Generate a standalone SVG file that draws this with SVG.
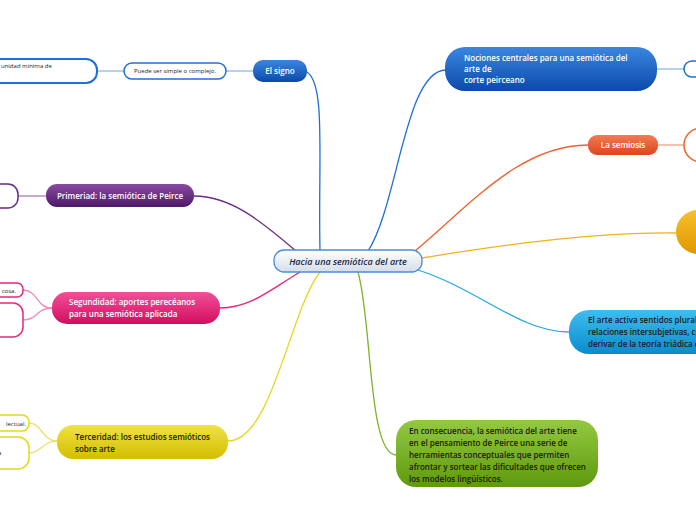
<svg xmlns="http://www.w3.org/2000/svg" width="696" height="520" viewBox="0 0 696 520">
<defs>
<linearGradient id="gBlue" x1="0" y1="0" x2="0" y2="1"><stop offset="0" stop-color="#3b86e0"/><stop offset="1" stop-color="#0b4aaa"/></linearGradient>
<linearGradient id="gOrange" x1="0" y1="0" x2="0" y2="1"><stop offset="0" stop-color="#f57a52"/><stop offset="1" stop-color="#d9471c"/></linearGradient>
<linearGradient id="gGold" x1="0" y1="0" x2="0" y2="1"><stop offset="0" stop-color="#f7bf2e"/><stop offset="1" stop-color="#df9800"/></linearGradient>
<linearGradient id="gCyan" x1="0" y1="0" x2="0" y2="1"><stop offset="0" stop-color="#3fbdf0"/><stop offset="1" stop-color="#0a8ccc"/></linearGradient>
<linearGradient id="gGreen" x1="0" y1="0" x2="0" y2="1"><stop offset="0" stop-color="#93c940"/><stop offset="1" stop-color="#5e990e"/></linearGradient>
<linearGradient id="gPurple" x1="0" y1="0" x2="0" y2="1"><stop offset="0" stop-color="#8a4aa2"/><stop offset="1" stop-color="#4e1a68"/></linearGradient>
<linearGradient id="gPink" x1="0" y1="0" x2="0" y2="1"><stop offset="0" stop-color="#f2509a"/><stop offset="1" stop-color="#d20d5e"/></linearGradient>
<linearGradient id="gYellow" x1="0" y1="0" x2="0" y2="1"><stop offset="0" stop-color="#f1e245"/><stop offset="1" stop-color="#d2be00"/></linearGradient>
<linearGradient id="gCenter" x1="0" y1="0" x2="0" y2="1"><stop offset="0" stop-color="#ffffff"/><stop offset="1" stop-color="#d5dde8"/></linearGradient>
</defs>
<style>
text{font-family:"Open Sans","Noto Sans","Liberation Sans",sans-serif}
.w{fill:#fff;font-size:8px;font-weight:600}
.d{fill:#1a1a1a;font-size:8px;font-weight:600}
.s{fill:#222;font-size:6px}
.c{fill:none;stroke-width:1.3}
</style>
<g id="connectors">
<path class="c" stroke="#1e6fd6" d="M320,251 C318,160 326,84 307,72"/>
<path class="c" stroke="#1e6fd6" d="M368,251 C398,205 405,70 446,70"/>
<path class="c" stroke="#f0602e" d="M415,251 C470,205 520,145 588,145"/>
<path class="c" stroke="#f2b21a" d="M422,258 C500,245 600,232 676,233"/>
<path class="c" stroke="#23a8e6" d="M418,270 C480,290 520,332 569,332"/>
<path class="c" stroke="#7db52a" d="M358,272 C372,320 368,455 396,455"/>
<path class="c" stroke="#e6d61c" d="M320,272 C290,310 272,441 228,441"/>
<path class="c" stroke="#e8277a" d="M300,272 C270,290 250,308 220,308"/>
<path class="c" stroke="#6a2a85" d="M296,251 C260,220 230,196 194,196"/>
<path class="c" stroke="#8ab8ec" d="M253,71 L226,71"/>
<path class="c" stroke="#8ab8ec" d="M124,71 L97,71"/>
<path class="c" stroke="#8ab8ec" d="M657,69 L684,69"/>
<path class="c" stroke="#f5a080" d="M658,145 L684,145"/>
<path class="c" stroke="#a77cb8" d="M46,196 L18,196"/>
<path class="c" stroke="#f18ab8" d="M52,308 C36,308 38,290 23,290"/>
<path class="c" stroke="#f18ab8" d="M52,308 C36,308 38,320 23,320"/>
<path class="c" stroke="#ede070" d="M57,441 C42,441 42,423 29,423"/>
<path class="c" stroke="#ede070" d="M57,441 C42,441 42,453 29,453"/>
</g>
<g id="center">
<rect x="274" y="250" width="148" height="22" rx="10" fill="url(#gCenter)" stroke="#4a8fd6" stroke-width="1.3"/>
<text x="348" y="264.5" text-anchor="middle" font-size="9" font-style="italic" font-weight="600" fill="#1a2640">Hacia una semiótica del arte</text>
</g>
<g id="el-signo">
<rect x="253" y="60" width="54" height="22" rx="10" fill="url(#gBlue)"/>
<text x="280" y="74" text-anchor="middle" class="w">El signo</text>
</g>
<g id="puede">
<rect x="124" y="63" width="102" height="16" rx="8" fill="#fff" stroke="#1e6fd6" stroke-width="1.5"/>
<text x="175" y="73" text-anchor="middle" class="s">Puede ser simple o complejo.</text>
</g>
<g id="unidad">
<rect x="-10" y="59" width="107" height="24" rx="11" fill="#fff" stroke="#1e6fd6" stroke-width="2"/>
<text x="1" y="68" class="s">unidad mínima de</text>
</g>
<g id="nociones">
<rect x="445" y="47" width="212" height="44" rx="20" fill="url(#gBlue)"/>
<text class="w" font-weight="500"><tspan x="464" y="61">Nociones centrales para una semiótica del</tspan><tspan x="464" y="72">arte de</tspan><tspan x="464" y="83">corte peirceano</tspan></text>
</g>
<g id="nociones-child">
<rect x="684" y="61" width="30" height="16" rx="8" fill="#fff" stroke="#1e6fd6" stroke-width="1.5"/>
</g>
<g id="semiosis">
<rect x="588" y="135" width="70" height="20" rx="9" fill="url(#gOrange)"/>
<text x="623" y="148" text-anchor="middle" class="w">La semiosis</text>
</g>
<g id="semiosis-child">
<rect x="684" y="128" width="34" height="34" rx="17" fill="#fff" stroke="#f0602e" stroke-width="1.5"/>
</g>
<g id="gold">
<rect x="676" y="210" width="60" height="44" rx="22" fill="url(#gGold)"/>
</g>
<g id="arte-activa">
<rect x="569" y="310" width="200" height="44" rx="20" fill="url(#gCyan)"/>
<text class="d" fill="#0d1a26"><tspan x="588" y="323">El arte activa sentidos plurales</tspan><tspan x="588" y="335">relaciones intersubjetivas, co</tspan><tspan x="588" y="347">derivar de la teoría triádica d</tspan></text>
</g>
<g id="consecuencia">
<rect x="396" y="420" width="202" height="67" rx="20" fill="url(#gGreen)"/>
<text class="d"><tspan x="409" y="434">En consecuencia, la semiótica del arte tiene</tspan><tspan x="409" y="446">en el pensamiento de Peirce una serie de</tspan><tspan x="409" y="458">herramientas conceptuales que permiten</tspan><tspan x="409" y="470">afrontar y sortear las dificultades que ofrecen</tspan><tspan x="409" y="482">los modelos lingüísticos.</tspan></text>
</g>
<g id="primeriad">
<rect x="46" y="184" width="148" height="23" rx="11" fill="url(#gPurple)"/>
<text x="120" y="199" text-anchor="middle" class="w">Primeriad: la semiótica de Peirce</text>
</g>
<g id="primeriad-child">
<rect x="-12" y="184" width="30" height="24" rx="10" fill="#fff" stroke="#6a2a85" stroke-width="1.5"/>
</g>
<g id="segundidad">
<rect x="52" y="292" width="168" height="32" rx="15" fill="url(#gPink)"/>
<text class="w" font-weight="500"><tspan x="69" y="305">Segundidad: aportes perecéanos</tspan><tspan x="69" y="317">para una semiótica aplicada</tspan></text>
</g>
<g id="seg-child1">
<rect x="-10" y="283" width="33" height="14" rx="6" fill="#fff" stroke="#e8277a" stroke-width="1.5"/>
<text x="16" y="292.5" text-anchor="end" class="s">cosa.</text>
</g>
<g id="seg-child2">
<rect x="-10" y="303" width="33" height="34" rx="10" fill="#fff" stroke="#e8277a" stroke-width="1.5"/>
</g>
<g id="terceridad">
<rect x="57" y="425" width="171" height="34" rx="16" fill="url(#gYellow)"/>
<text class="d"><tspan x="75" y="440">Terceridad: los estudios semióticos</tspan><tspan x="75" y="452">sobre arte</tspan></text>
</g>
<g id="ter-child1">
<rect x="-10" y="415" width="39" height="16" rx="7" fill="#fff" stroke="#e6d61c" stroke-width="1.5"/>
<text x="26" y="425.5" text-anchor="end" class="s">lectual.</text>
</g>
<g id="ter-child2">
<rect x="-10" y="437" width="39" height="32" rx="11" fill="#fff" stroke="#e6d61c" stroke-width="1.5"/>
<text x="-2" y="455" class="s">a</text>
</g>
</svg>
